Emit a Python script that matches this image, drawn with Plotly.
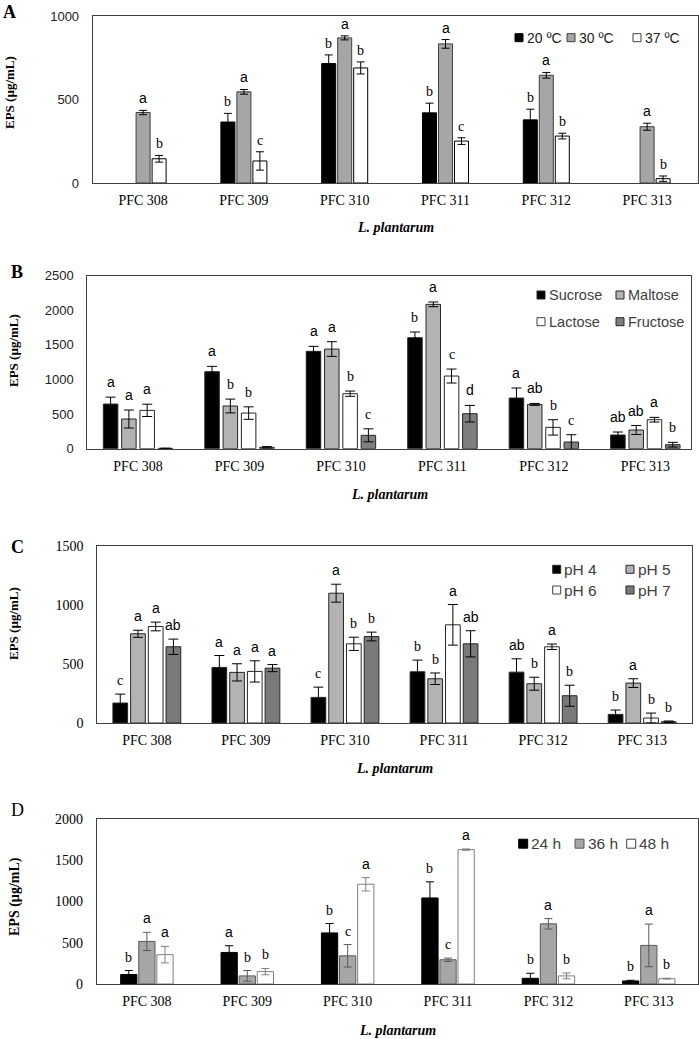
import plotly.graph_objects as go

W, H = 699, 1039

# ------------------------------------------------------------------ data
strains = ["PFC 308", "PFC 309", "PFC 310", "PFC 311", "PFC 312", "PFC 313"]

# Panel A: incubation temperature
temp_labels = ["20 ºC", "30 ºC", "37 ºC"]
eps_20c = [None, 365, 715, 420, 378, None]
sd_20c = [None, 52, 52, 58, 64, None]
sig_20c = ["", "b", "b", "b", "b", ""]
eps_30c = [422, 546, 869, 833, 645, 337]
sd_30c = [13, 14, 12, 26, 17, 21]
sig_30c = ["a", "a", "a", "a", "a", "a"]
eps_37c = [145, 132, 689, 251, 281, 26]
sd_37c = [20, 55, 36, 20, 17, 16]
sig_37c = ["b", "c", "b", "c", "b", "b"]

# Panel B: carbon source
sugar_labels = ["Sucrose", "Maltose", "Lactose", "Fructose"]
eps_sucrose = [645, 1113, 1407, 1604, 732, 198]
sd_sucrose = [100, 77, 72, 82, 145, 43]
sig_sucrose = ["a", "a", "a", "b", "a", "ab"]
eps_maltose = [429, 617, 1440, 2086, 640, 270]
sd_maltose = [130, 100, 106, 34, 14, 65]
sig_maltose = ["a", "b", "a", "a", "ab", "ab"]
eps_lactose = [554, 515, 795, 1050, 308, 419]
sd_lactose = [89, 90, 38, 101, 111, 34]
sig_lactose = ["a", "b", "b", "c", "b", "a"]
eps_fructose = [5, 20, 193, 506, 96, 58]
sd_fructose = [3, 10, 94, 120, 106, 34]
sig_fructose = ["", "", "c", "d", "c", "b"]

# Panel C: initial pH
ph_labels = ["pH 4", "pH 5", "pH 6", "pH 7"]
eps_ph4 = [169, 471, 217, 434, 431, 73]
sd_ph4 = [76, 101, 87, 99, 113, 37]
sig_ph4 = ["c", "a", "c", "b", "ab", "b"]
eps_ph5 = [756, 429, 1100, 375, 333, 338]
sd_ph5 = [30, 73, 76, 49, 55, 37]
sig_ph5 = ["a", "a", "a", "b", "b", "a"]
eps_ph6 = [818, 437, 671, 832, 646, 42]
sd_ph6 = [37, 90, 56, 172, 23, 42]
sig_ph6 = ["a", "a", "b", "a", "a", "b"]
eps_ph7 = [646, 465, 733, 671, 231, 11]
sd_ph7 = [65, 30, 37, 111, 89, 6]
sig_ph7 = ["ab", "a", "b", "ab", "b", "b"]

# Panel D: incubation time
time_labels = ["24 h", "36 h", "48 h"]
eps_24h = [115, 382, 618, 1041, 69, 37]
sd_24h = [48, 81, 114, 195, 61, 8]
sig_24h = ["b", "a", "b", "b", "b", "b"]
eps_36h = [515, 98, 341, 293, 728, 467]
sd_36h = [110, 65, 136, 20, 63, 258]
sig_36h = ["a", "b", "c", "c", "a", "a"]
eps_48h = [355, 150, 1207, 1626, 98, 65]
sd_48h = [100, 38, 81, 8, 35, 5]
sig_48h = ["a", "b", "a", "a", "b", "b"]

y_title = "EPS (µg/mL)"
x_title = "<i>L. plantarum</i>"

# ------------------------------------------------------------------ layout config
SERIF = "Liberation Serif, Times New Roman, serif"
SANS = "Liberation Sans, Arial, sans-serif"

panels = [
    dict(tag="A", tagbold=True, box=(92.7, 698, 16, 183), xr=[-0.5, 5.505], yr=[0, 1000], dtick=500,
         yfont=dict(family=SANS, size=13, color="#222"), slot=0.1587, bw=0.139, cap=4, sigshift=2,
         names=temp_labels, vals=[eps_20c, eps_30c, eps_37c], sds=[sd_20c, sd_30c, sd_37c],
         sigs=[sig_20c, sig_30c, sig_37c],
         fills=["#000000", "#a6a6a6", "#ffffff"], lines=["#000000", "#3f3f3f", "#000000"],
         errc=["#000000", "#000000", "#000000"],
         tagpos=(9, 12), ytpos=(9, 93), ytsize=13, xtpos=228,
         legfont=14, legcolor="#222",
         leg=[(515, 37.7), (567, 37.7), (633, 37.7)], legsq=8),
    dict(tag="B", tagbold=True, box=(87.3, 691, 275.7, 448.7), xr=[-0.5, 5.45], yr=[0, 2500], dtick=500,
         yfont=dict(family=SANS, size=13, color="#222"), slot=0.1803, bw=0.143, cap=5, sigshift=5,
         names=sugar_labels, vals=[eps_sucrose, eps_maltose, eps_lactose, eps_fructose],
         sds=[sd_sucrose, sd_maltose, sd_lactose, sd_fructose],
         sigs=[sig_sucrose, sig_maltose, sig_lactose, sig_fructose],
         fills=["#000000", "#b3b3b3", "#ffffff", "#7f7f7f"], lines=["#262626"] * 4,
         errc=["#000000"] * 4,
         tagpos=(17, 272), ytpos=(13, 351), ytsize=13, xtpos=494,
         legfont=14.5, legcolor="#404040",
         leg=[(537, 295), (616, 295), (537, 321.7), (616, 321.7)], legsq=8),
    dict(tag="C", tagbold=True, box=(97.3, 691.7, 546, 723), xr=[-0.5, 5.5], yr=[0, 1500], dtick=500,
         yfont=dict(family=SERIF, size=14, color="#000"), slot=0.1788, bw=0.1485, cap=5, sigshift=4,
         names=ph_labels, vals=[eps_ph4, eps_ph5, eps_ph6, eps_ph7], sds=[sd_ph4, sd_ph5, sd_ph6, sd_ph7],
         sigs=[sig_ph4, sig_ph5, sig_ph6, sig_ph7],
         fills=["#000000", "#b3b3b3", "#ffffff", "#7a7a7a"], lines=["#262626"] * 4,
         errc=["#000000"] * 4,
         tagpos=(17, 547), ytpos=(13, 624), ytsize=13, xtpos=768,
         legfont=15.5, legcolor="#404040",
         leg=[(552.7, 569.3), (626, 569.3), (552.7, 590), (626, 590)], legsq=8),
    dict(tag="D", tagbold=False, box=(96.7, 698, 818.7, 984), xr=[-0.5, 5.49], yr=[0, 2000], dtick=500,
         yfont=dict(family=SERIF, size=14, color="#000"), slot=0.1803, bw=0.162, cap=4, sigshift=4,
         names=time_labels, vals=[eps_24h, eps_36h, eps_48h], sds=[sd_24h, sd_36h, sd_48h],
         sigs=[sig_24h, sig_36h, sig_48h],
         fills=["#000000", "#a6a6a6", "#ffffff"], lines=["#000000", "#595959", "#7f7f7f"],
         errc=["#000000", "#595959", "#7f7f7f"],
         tagpos=(17, 810), ytpos=(15, 897), ytsize=14, xtpos=1030,
         legfont=15.5, legcolor="#404040",
         leg=[(518.7, 843.7), (575, 843.7), (626.7, 843.7)], legsq=9),
]


def px(x):
    return x / W


def py(y):
    return 1 - y / H


fig = go.Figure()
annotations = []
shapes = []
layout = dict(width=W, height=H, margin=dict(l=0, r=0, t=0, b=0, autoexpand=False),
              paper_bgcolor="white", plot_bgcolor="white", barmode="overlay", showlegend=False)

for k, p in enumerate(panels, start=1):
    xa = "x" if k == 1 else f"x{k}"
    ya = "y" if k == 1 else f"y{k}"
    x0, x1, y0, y1 = p["box"]
    layout["xaxis" if k == 1 else f"xaxis{k}"] = dict(
        domain=[px(x0), px(x1)], range=p["xr"], anchor=ya, type="category", automargin=False,
        showline=True, mirror=True, linecolor="#404040", linewidth=1, ticks="",
        showgrid=False, zeroline=False, fixedrange=True,
        tickfont=dict(family=SERIF, size=14, color="#000"), ticklabelstandoff=4)
    layout["yaxis" if k == 1 else f"yaxis{k}"] = dict(
        domain=[py(y1), py(y0)], range=p["yr"], dtick=p["dtick"], tick0=0, anchor=xa, automargin=False,
        showline=True, mirror=True, linecolor="#404040", linewidth=1, ticks="",
        showgrid=False, zeroline=False, fixedrange=True, tickfont=p["yfont"], ticklabelstandoff=10)

    n = len(p["vals"])
    for j in range(n):
        center = (j - (n - 1) / 2) * p["slot"]
        fig.add_trace(go.Bar(
            x=strains, y=p["vals"][j], name=p["names"][j], xaxis=xa, yaxis=ya,
            width=p["bw"], offset=center - p["bw"] / 2,
            marker=dict(color=p["fills"][j], line=dict(color=p["lines"][j], width=1)),
            error_y=dict(type="data", array=p["sds"][j], visible=True, color=p["errc"][j],
                         thickness=1, width=p["cap"]),
            showlegend=False))
        for i, s in enumerate(p["sigs"][j]):
            if not s:
                continue
            v = p["vals"][j][i]
            e = p["sds"][j][i] or 0
            fam = SERIF if s in ("b", "c") else SANS
            annotations.append(dict(
                x=i + center, y=v + e, xref=xa, yref=ya, text=s, showarrow=False,
                xanchor="center", yanchor="bottom", yshift=p["sigshift"],
                font=dict(family=fam, size=14, color="#000")))

        # legend entry (key square + label)
        lx, ly = p["leg"][j]
        sq = p["legsq"]
        edge = p["lines"][j] if p["fills"][j] != "#ffffff" else "#404040"
        shapes.append(dict(type="rect", xref="paper", yref="paper",
                           x0=px(lx), x1=px(lx + sq), y0=py(ly + sq / 2), y1=py(ly - sq / 2),
                           fillcolor=p["fills"][j], line=dict(color=edge, width=1)))
        annotations.append(dict(x=px(lx + sq + 1.5), y=py(ly), xref="paper", yref="paper",
                                xanchor="left", yanchor="middle", showarrow=False, text=p["names"][j],
                                font=dict(family=SANS, size=p["legfont"], color=p["legcolor"])))

    # panel tag
    tx, ty = p["tagpos"]
    annotations.append(dict(x=px(tx), y=py(ty), xref="paper", yref="paper", showarrow=False,
                            xanchor="center", yanchor="middle",
                            text=f"<b>{p['tag']}</b>" if p["tagbold"] else p["tag"],
                            font=dict(family=SERIF, size=18, color="#000")))
    # y-axis title
    yx, yy = p["ytpos"]
    annotations.append(dict(x=px(yx), y=py(yy), xref="paper", yref="paper", showarrow=False,
                            xanchor="center", yanchor="middle",
                            text=f"<b>{y_title}</b>", textangle=-90,
                            font=dict(family=SERIF, size=p["ytsize"], color="#000")))
    # x-axis title
    annotations.append(dict(x=px((x0 + x1) / 2), y=py(p["xtpos"]), xref="paper", yref="paper",
                            showarrow=False, xanchor="center", yanchor="middle",
                            text=f"<b>{x_title}</b>",
                            font=dict(family=SERIF, size=14, color="#000")))

layout["annotations"] = annotations
layout["shapes"] = shapes
fig.update_layout(**layout)
fig.write_html("out.html", config={"displayModeBar": False},
               post_script="document.body.style.margin='0';document.body.style.overflow='hidden';")
